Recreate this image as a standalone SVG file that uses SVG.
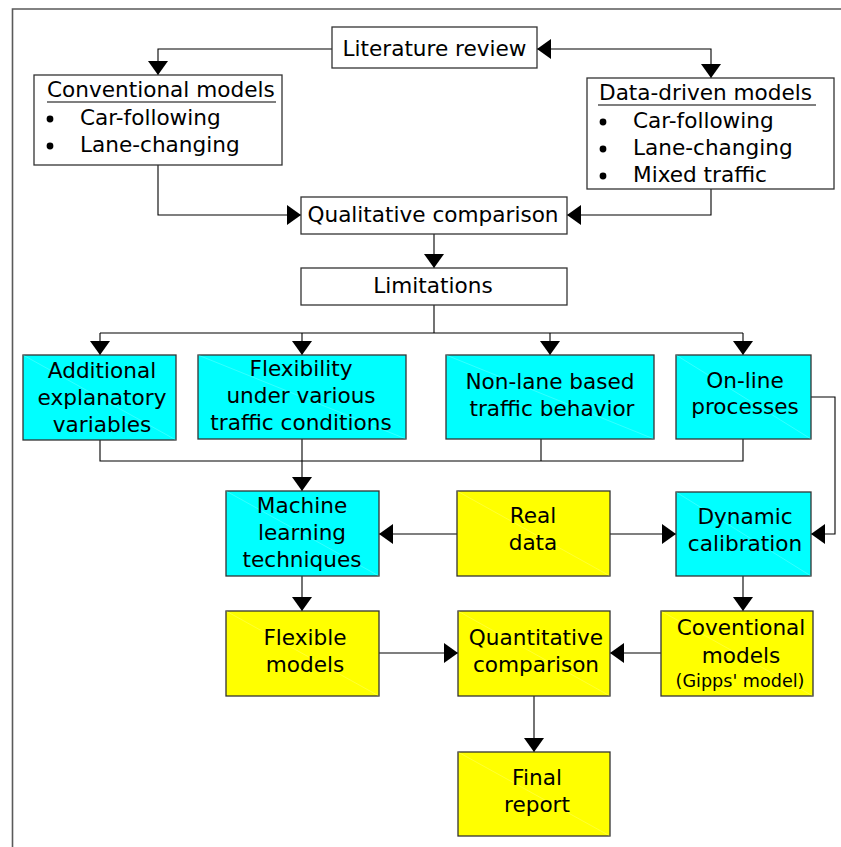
<svg xmlns="http://www.w3.org/2000/svg" width="841" height="847" viewBox="0 0 841 847">
  <defs>
    <marker id="arrow" markerUnits="userSpaceOnUse" markerWidth="14" markerHeight="20" refX="14" refY="10" orient="auto-start-reverse">
      <path d="M0,0 L14,10 L0,20 Z" fill="#000"/>
    </marker>
  </defs>
  <style>
    text { font-family: "DejaVu Sans", Verdana, sans-serif; font-size: 21.6px; fill: #000; }
    .c { text-anchor: middle; }
    .small { font-size: 17.6px; }
    .box { stroke: #333; stroke-width: 1.3; }
    .white { fill: #fff; }
    .cyan { fill: #00ffff; }
    .yellow { fill: #ffff00; }
    .sheen { stroke: #fff; stroke-width: 1; opacity: 0.2; }
    .wire { fill: none; stroke: #000; stroke-width: 1.1; }
    .arr { marker-end: url(#arrow); }
    .rule { stroke: #000; stroke-width: 1.2; }
  </style>

  <rect width="841" height="847" fill="#fff"/>
  <!-- page frame -->
  <path d="M841,9 H12.5 V847" fill="none" stroke="#5a5a5a" stroke-width="1.6"/>

  <!-- connectors -->
  <g id="connectors">
    <path class="wire arr" d="M332,49 H158 V75"/>
    <path class="wire arr" d="M537,49 H711 V78" marker-start="url(#arrow)"/>
    <path class="wire arr" d="M158,165 V215 H301"/>
    <path class="wire arr" d="M711,189 V215 H567"/>
    <path class="wire arr" d="M434,234 V268"/>
    <path class="wire" d="M434,305 V333 M100,333 H743"/>
    <path class="wire arr" d="M100,333 V355"/>
    <path class="wire arr" d="M302,333 V355"/>
    <path class="wire arr" d="M550,333 V355"/>
    <path class="wire arr" d="M743,333 V355"/>
    <path class="wire" d="M100,440 V461 H743 V439 M541,439 V461"/>
    <path class="wire arr" d="M302,439 V491"/>
    <path class="wire arr" d="M811,397 H835 V534 H811"/>
    <path class="wire arr" d="M457,534 H379"/>
    <path class="wire arr" d="M610,534 H676"/>
    <path class="wire arr" d="M302,576 V611"/>
    <path class="wire arr" d="M743,576 V611"/>
    <path class="wire arr" d="M379,653 H458"/>
    <path class="wire arr" d="M661,653 H610"/>
    <path class="wire arr" d="M534,696 V752"/>
  </g>

  <g id="literature-review">
    <rect class="box white" x="332" y="27" width="205" height="41"/>
    <text class="c" x="434.5" y="56">Literature review</text>
  </g>

  <g id="conventional-models">
    <rect class="box white" x="34" y="75" width="248" height="90"/>
    <text x="47" y="97">Conventional models</text>
    <line class="rule" x1="47" y1="102" x2="276" y2="102"/>
    <circle cx="50" cy="119" r="3.4"/>
    <text x="80" y="125">Car-following</text>
    <circle cx="50" cy="146" r="3.4"/>
    <text x="80" y="152">Lane-changing</text>
  </g>

  <g id="data-driven-models">
    <rect class="box white" x="587" y="78" width="247" height="111"/>
    <text x="599" y="100">Data-driven models</text>
    <line class="rule" x1="598" y1="105" x2="816" y2="105"/>
    <circle cx="603" cy="122" r="3.4"/>
    <text x="633" y="128">Car-following</text>
    <circle cx="603" cy="149" r="3.4"/>
    <text x="633" y="155">Lane-changing</text>
    <circle cx="603" cy="176" r="3.4"/>
    <text x="633" y="182">Mixed traffic</text>
  </g>

  <g id="qualitative-comparison">
    <rect class="box white" x="301" y="197" width="266" height="37"/>
    <text class="c" x="433" y="222">Qualitative comparison</text>
  </g>

  <g id="limitations">
    <rect class="box white" x="301" y="268" width="266" height="37"/>
    <text class="c" x="433" y="293">Limitations</text>
  </g>

  <g id="additional-variables">
    <rect class="box cyan" x="23" y="355" width="153" height="85"/>
    <line class="sheen" x1="23" y1="355" x2="176" y2="440"/>
    <text class="c" x="102" y="378">Additional</text>
    <text class="c" x="102" y="405">explanatory</text>
    <text class="c" x="102" y="432">variables</text>
  </g>

  <g id="flexibility">
    <rect class="box cyan" x="198" y="355" width="208" height="84"/>
    <line class="sheen" x1="198" y1="355" x2="406" y2="439"/>
    <text class="c" x="301" y="376">Flexibility</text>
    <text class="c" x="301" y="403">under various</text>
    <text class="c" x="301" y="430">traffic conditions</text>
  </g>

  <g id="non-lane-based">
    <rect class="box cyan" x="446" y="355" width="208" height="84"/>
    <line class="sheen" x1="446" y1="355" x2="654" y2="439"/>
    <text class="c" x="550" y="389">Non-lane based</text>
    <text class="c" x="552" y="416">traffic behavior</text>
  </g>

  <g id="on-line-processes">
    <rect class="box cyan" x="676" y="355" width="135" height="84"/>
    <line class="sheen" x1="676" y1="355" x2="811" y2="439"/>
    <text class="c" x="745" y="388">On-line</text>
    <text class="c" x="745" y="414">processes</text>
  </g>

  <g id="machine-learning">
    <rect class="box cyan" x="226" y="491" width="153" height="85"/>
    <line class="sheen" x1="226" y1="491" x2="379" y2="576"/>
    <text class="c" x="302" y="513">Machine</text>
    <text class="c" x="302" y="540">learning</text>
    <text class="c" x="302" y="567">techniques</text>
  </g>

  <g id="real-data">
    <rect class="box yellow" x="457" y="491" width="153" height="85"/>
    <line class="sheen" x1="457" y1="491" x2="610" y2="576"/>
    <text class="c" x="533" y="523">Real</text>
    <text class="c" x="533" y="550">data</text>
  </g>

  <g id="dynamic-calibration">
    <rect class="box cyan" x="676" y="492" width="135" height="84"/>
    <line class="sheen" x1="676" y1="492" x2="811" y2="576"/>
    <text class="c" x="745" y="524">Dynamic</text>
    <text class="c" x="745" y="551">calibration</text>
  </g>

  <g id="flexible-models">
    <rect class="box yellow" x="226" y="611" width="153" height="85"/>
    <line class="sheen" x1="226" y1="611" x2="379" y2="696"/>
    <text class="c" x="305" y="645">Flexible</text>
    <text class="c" x="305" y="672">models</text>
  </g>

  <g id="quantitative-comparison">
    <rect class="box yellow" x="458" y="611" width="152" height="85"/>
    <line class="sheen" x1="458" y1="611" x2="610" y2="696"/>
    <text class="c" x="536" y="645">Quantitative</text>
    <text class="c" x="536" y="672">comparison</text>
  </g>

  <g id="coventional-models">
    <rect class="box yellow" x="661" y="611" width="152" height="85"/>
    <line class="sheen" x1="661" y1="611" x2="813" y2="696"/>
    <text class="c" x="741" y="635">Coventional</text>
    <text class="c" x="741" y="663">models</text>
    <text class="c small" x="740" y="687">(Gipps' model)</text>
  </g>

  <g id="final-report">
    <rect class="box yellow" x="458" y="752" width="152" height="84"/>
    <line class="sheen" x1="458" y1="752" x2="610" y2="836"/>
    <text class="c" x="537" y="785">Final</text>
    <text class="c" x="537" y="812">report</text>
  </g>
</svg>
